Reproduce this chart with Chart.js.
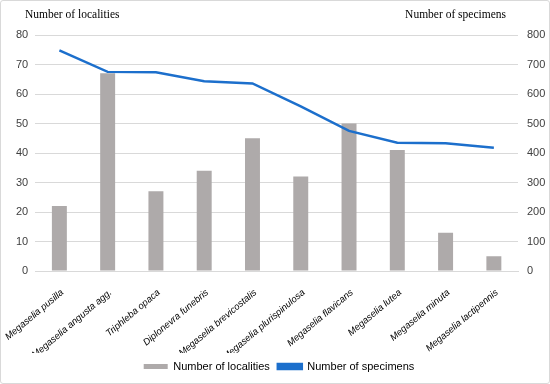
<!DOCTYPE html>
<html>
<head>
<meta charset="utf-8">
<script src="https://cdn.jsdelivr.net/npm/chart.js@4/dist/chart.umd.min.js"></script>
<style>
  html, body { margin: 0; padding: 0; background: #fff; }
  #wrap { position: relative; width: 548px; height: 382px; border: 1px solid #d9d9d9; border-radius: 3px; }
</style>
</head>
<body>
<div id="wrap"><canvas id="chart"></canvas></div>
<script>
const species = ['Megaselia pusilla', 'Megaselia angusta agg.', 'Triphleba opaca', 'Diplonevra funebris',
    'Megaselia brevicostalis', 'Megaselia plurispinulosa', 'Megaselia flavicans', 'Megaselia lutea',
    'Megaselia minuta', 'Megaselia lactipennis'];
const localities = [22, 67, 27, 34, 45, 32, 50, 41, 13, 5];
const specimens = [748, 675, 674, 643, 636, 558, 475, 435, 433, 418];
const localityTicks = [0, 10, 20, 30, 40, 50, 60, 70, 80];
const specimenTicks = [0, 100, 200, 300, 400, 500, 600, 700, 800];

// axis titles drawn above the plot, like the original
const axisTitles = {
    id: 'axisTitles',
    afterDraw(chart) {
        const c = chart.ctx;
        c.save();
        c.font = '11.5px "Liberation Serif", "Times New Roman", serif';
        c.fillStyle = '#000';
        c.textBaseline = 'middle';
        c.textAlign = 'left';
        c.fillText('Number of localities', 24, 14);
        c.textAlign = 'right';
        c.fillText('Number of specimens', 505, 14);
        c.restore();
    }
};

// nudge the rotated category labels a little to the right, as Excel places them
const nudgeLabels = {
    id: 'nudgeLabels',
    beforeDraw(chart) {
        chart.scales.x.getLabelItems().forEach(item => {
            if (!item._nudged) {
                item.options.translation[0] += 3;
                item._nudged = true;
            }
        });
    }
};

const tickFont = { family: "'Liberation Sans', Arial, sans-serif", size: 11 };

new Chart(document.getElementById('chart'), {
    type: 'bar',
    data: {
        labels: species,
        datasets: [
            {
                label: 'Number of localities',
                data: localities,
                backgroundColor: '#aeaaaa',
                yAxisID: 'y',
                categoryPercentage: 1,
                barPercentage: 0.31,
                order: 2
            },
            {
                type: 'line',
                label: 'Number of specimens',
                data: specimens,
                borderColor: '#1c6fcc',
                backgroundColor: '#1c6fcc',
                borderWidth: 2.5,
                pointRadius: 0,
                tension: 0,
                yAxisID: 'y1',
                order: 1
            }
        ]
    },
    options: {
        responsive: true,
        maintainAspectRatio: false,
        animation: false,
        layout: { padding: { top: 34, left: 8, right: 0, bottom: 1 } },
        scales: {
            x: {
                grid: { display: false },
                border: { color: '#d9d9d9' },
                afterFit: scale => {
                    scale.height = 82;
                    scale.paddingLeft = 0;
                    scale.paddingRight = 0;
                },
                ticks: {
                    minRotation: 40,
                    maxRotation: 40,
                    autoSkip: false,
                    color: '#000',
                    padding: 8,
                    font: { family: "'Liberation Sans', Arial, sans-serif", size: 9.5, style: 'italic' }
                }
            },
            y: {
                position: 'left',
                min: 0,
                max: 80,
                afterBuildTicks: axis => { axis.ticks = localityTicks.map(v => ({ value: v })); },
                grid: { color: '#d9d9d9', drawTicks: false },
                border: { display: false },
                ticks: { color: '#404040', padding: 7, font: tickFont }
            },
            y1: {
                position: 'right',
                min: 0,
                max: 800,
                afterBuildTicks: axis => { axis.ticks = specimenTicks.map(v => ({ value: v })); },
                afterFit: scale => { scale.width = 31; },
                grid: { display: false, drawTicks: false },
                border: { display: false },
                ticks: { color: '#404040', padding: 9, font: tickFont }
            }
        },
        plugins: {
            legend: {
                position: 'bottom',
                labels: {
                    boxWidth: 24,
                    boxHeight: 5,
                    padding: 8,
                    color: '#000',
                    font: { family: "'Liberation Sans', Arial, sans-serif", size: 11 },
                    sort: (a, b) => a.datasetIndex - b.datasetIndex
                }
            },
            tooltip: { enabled: false }
        }
    },
    plugins: [axisTitles, nudgeLabels]
});
</script>
</body>
</html>
